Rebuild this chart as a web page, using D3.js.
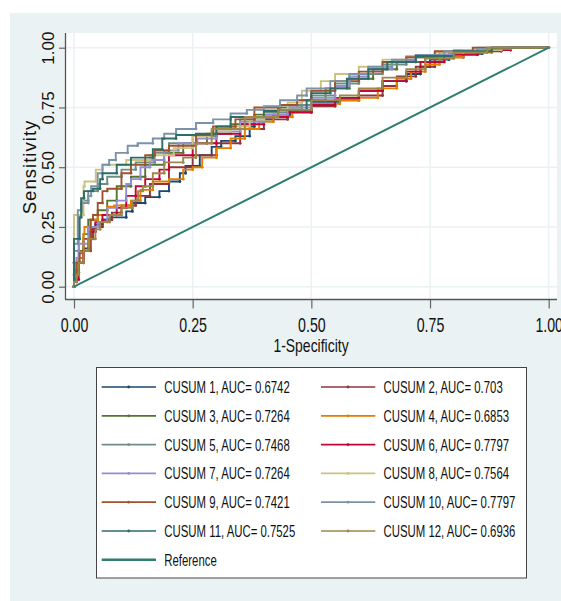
<!DOCTYPE html>
<html><head><meta charset="utf-8">
<script src="https://cdn.jsdelivr.net/npm/d3@7"></script>
<style>body{margin:0;background:#fff}svg{display:block}text{font-family:"Liberation Sans",Arial,sans-serif;fill:#111}</style>
</head><body><svg id="c" width="561" height="601"></svg>
<script>
const seriesNames = ["CUSUM 1","CUSUM 2","CUSUM 3","CUSUM 4","CUSUM 5","CUSUM 6","CUSUM 7","CUSUM 8","CUSUM 9","CUSUM 10","CUSUM 11","CUSUM 12"];
const aucValues = ["0.6742","0.703","0.7264","0.6853","0.7468","0.7797","0.7264","0.7564","0.7421","0.7797","0.7525","0.6936"];
const seriesColors = ["#1a476f","#90353b","#55752f","#e37e00","#6e8e84","#c10534","#938dd2","#cac27e","#a0522d","#7b92a8","#2d6d66","#9c8847"];
const referenceColor = "#2e7d6f";
const xTicks = [0,0.25,0.5,0.75,1];
const yTicks = [0,0.25,0.5,0.75,1];

const cusum1 = [[0,0],[0.005,0.03],[0.01,0.07],[0.02,0.1],[0.03,0.16],[0.035,0.2],[0.045,0.24],[0.06,0.26],[0.075,0.28],[0.11,0.29],[0.123,0.315],[0.15,0.35],[0.18,0.375],[0.2,0.40],[0.223,0.44],[0.235,0.475],[0.265,0.505],[0.29,0.55],[0.31,0.585],[0.34,0.61],[0.37,0.63],[0.38,0.67],[0.42,0.70],[0.455,0.72],[0.5,0.74],[0.56,0.774],[0.6,0.785],[0.65,0.82],[0.7,0.86],[0.73,0.89],[0.75,0.92],[0.79,0.95],[0.86,0.975],[0.92,0.99],[1,1]];
const cusum2 = [[0,0],[0.01,0.05],[0.02,0.12],[0.04,0.2],[0.06,0.25],[0.08,0.28],[0.1,0.31],[0.13,0.34],[0.16,0.38],[0.2,0.43],[0.25,0.5],[0.3,0.55],[0.35,0.6],[0.4,0.66],[0.45,0.7],[0.5,0.73],[0.55,0.755],[0.6,0.78],[0.65,0.8],[0.68,0.84],[0.72,0.88],[0.76,0.92],[0.82,0.96],[0.9,0.985],[1,1]];
const cusum3 = [[0,0],[0.01,0.06],[0.02,0.15],[0.03,0.22],[0.05,0.28],[0.07,0.32],[0.09,0.36],[0.12,0.42],[0.15,0.46],[0.19,0.51],[0.23,0.56],[0.28,0.6],[0.33,0.64],[0.38,0.68],[0.43,0.72],[0.48,0.75],[0.53,0.78],[0.58,0.83],[0.63,0.87],[0.68,0.91],[0.74,0.94],[0.8,0.965],[0.88,0.985],[1,1]];
const cusum4 = [[0,0],[0.005,0.02],[0.01,0.06],[0.02,0.12],[0.022,0.22],[0.035,0.25],[0.05,0.28],[0.07,0.3],[0.085,0.335],[0.12,0.34],[0.14,0.36],[0.166,0.405],[0.2,0.44],[0.23,0.45],[0.25,0.49],[0.27,0.50],[0.3,0.54],[0.33,0.58],[0.36,0.62],[0.39,0.66],[0.42,0.69],[0.46,0.71],[0.5,0.73],[0.56,0.765],[0.6,0.78],[0.64,0.79],[0.68,0.83],[0.71,0.87],[0.74,0.90],[0.77,0.93],[0.82,0.96],[0.88,0.98],[1,1]];
const cusum5 = [[0,0],[0,0.05],[0.01,0.15],[0.018,0.3],[0.03,0.36],[0.05,0.40],[0.07,0.43],[0.1,0.46],[0.13,0.49],[0.17,0.52],[0.2,0.56],[0.25,0.6],[0.3,0.63],[0.35,0.66],[0.4,0.70],[0.45,0.73],[0.5,0.76],[0.55,0.80],[0.6,0.85],[0.65,0.89],[0.7,0.93],[0.77,0.96],[0.85,0.98],[1,1]];
const cusum6 = [[0,0],[0.01,0.03],[0.02,0.1],[0.035,0.15],[0.045,0.23],[0.06,0.27],[0.09,0.3],[0.11,0.33],[0.13,0.38],[0.15,0.42],[0.18,0.45],[0.2,0.49],[0.25,0.55],[0.3,0.6],[0.35,0.64],[0.4,0.68],[0.45,0.71],[0.5,0.73],[0.55,0.76],[0.6,0.79],[0.65,0.82],[0.7,0.86],[0.73,0.9],[0.78,0.94],[0.85,0.97],[0.92,0.99],[1,1]];
const cusum7 = [[0,0],[0.005,0.05],[0.01,0.12],[0.03,0.18],[0.05,0.25],[0.07,0.27],[0.09,0.33],[0.11,0.36],[0.12,0.43],[0.14,0.45],[0.16,0.50],[0.19,0.53],[0.22,0.57],[0.26,0.6],[0.3,0.62],[0.35,0.65],[0.4,0.69],[0.45,0.72],[0.5,0.75],[0.55,0.79],[0.58,0.84],[0.62,0.88],[0.67,0.91],[0.72,0.945],[0.8,0.97],[0.88,0.99],[1,1]];
const cusum8 = [[0,0],[0,0.22],[0.02,0.30],[0.022,0.42],[0.046,0.44],[0.06,0.49],[0.11,0.51],[0.16,0.53],[0.21,0.55],[0.25,0.58],[0.29,0.63],[0.33,0.65],[0.37,0.67],[0.40,0.70],[0.45,0.74],[0.48,0.77],[0.52,0.82],[0.55,0.86],[0.6,0.89],[0.65,0.92],[0.7,0.95],[0.76,0.965],[0.82,0.98],[0.9,0.99],[1,1]];
const cusum9 = [[0,0],[0.005,0.02],[0.012,0.1],[0.02,0.14],[0.035,0.15],[0.04,0.28],[0.05,0.3],[0.06,0.35],[0.07,0.40],[0.1,0.41],[0.12,0.475],[0.15,0.51],[0.17,0.55],[0.2,0.57],[0.257,0.59],[0.293,0.635],[0.34,0.67],[0.38,0.70],[0.434,0.75],[0.47,0.76],[0.5,0.78],[0.55,0.82],[0.6,0.86],[0.65,0.9],[0.7,0.94],[0.76,0.96],[0.84,0.985],[1,1]];
const cusum10 = [[0,0],[0,0.1],[0.008,0.18],[0.015,0.32],[0.03,0.35],[0.036,0.38],[0.05,0.42],[0.06,0.475],[0.074,0.51],[0.088,0.53],[0.113,0.56],[0.134,0.59],[0.166,0.60],[0.19,0.62],[0.215,0.64],[0.257,0.66],[0.293,0.685],[0.33,0.70],[0.364,0.725],[0.40,0.74],[0.434,0.755],[0.47,0.78],[0.49,0.80],[0.54,0.83],[0.58,0.86],[0.62,0.89],[0.67,0.92],[0.72,0.95],[0.78,0.97],[0.85,0.985],[0.92,0.995],[1,1]];
const cusum11 = [[0,0],[0,0.1],[0.012,0.2],[0.015,0.29],[0.021,0.37],[0.04,0.40],[0.055,0.41],[0.06,0.45],[0.09,0.475],[0.12,0.51],[0.166,0.54],[0.186,0.575],[0.215,0.62],[0.257,0.635],[0.30,0.64],[0.33,0.67],[0.40,0.71],[0.43,0.735],[0.49,0.74],[0.50,0.78],[0.54,0.81],[0.575,0.83],[0.62,0.87],[0.66,0.91],[0.72,0.94],[0.8,0.965],[0.88,0.985],[1,1]];
const cusum12 = [[0,0],[0.005,0.02],[0.01,0.05],[0.02,0.1],[0.03,0.15],[0.045,0.2],[0.055,0.24],[0.075,0.27],[0.1,0.3],[0.123,0.33],[0.135,0.36],[0.145,0.40],[0.166,0.42],[0.19,0.475],[0.23,0.52],[0.257,0.54],[0.29,0.6],[0.36,0.66],[0.43,0.71],[0.5,0.74],[0.56,0.78],[0.6,0.8],[0.65,0.83],[0.7,0.875],[0.74,0.91],[0.8,0.955],[0.87,0.98],[1,1]];
const referenceLine = [[0,0],[1,1]];
const curves = [cusum1,cusum2,cusum3,cusum4,cusum5,cusum6,cusum7,cusum8,cusum9,cusum10,cusum11,cusum12];

const svg = d3.select("#c");
const font = '"Liberation Sans",Arial,sans-serif';
svg.append("rect").attr("x",10).attr("y",13).attr("width",551).attr("height",588).attr("fill","#eaf2f3");
svg.append("rect").attr("x",66).attr("y",33).attr("width",491).attr("height",266).attr("fill","#fff");

const x = d3.scaleLinear().domain([0,1]).range([74,548.7]);
const y = d3.scaleLinear().domain([0,1]).range([286.7,47.7]);

const grid = svg.append("g");
grid.selectAll(".gy").data(yTicks).join("line").attr("x1",66).attr("x2",557).attr("y1",d=>y(d)).attr("y2",d=>y(d)).attr("stroke","#eaf2f3").attr("stroke-width",1.5);
grid.selectAll(".gx").data(xTicks).join("line").attr("y1",33).attr("y2",299).attr("x1",d=>x(d)).attr("x2",d=>x(d)).attr("stroke","#eaf2f3").attr("stroke-width",1.5);

const xa = svg.append("g").attr("transform","translate(0,299.5)").call(d3.axisBottom(x).tickValues(xTicks).tickSize(9).tickFormat(d3.format(".2f")));
xa.select(".domain").remove();
xa.selectAll(".tick line").attr("stroke","#666").attr("stroke-width",1.2);
xa.selectAll(".tick text").attr("y",33).attr("dy",0).attr("font-size",20).attr("font-family",font).attr("fill","#111").attr("transform","scale(0.71,1)");
const ya = svg.append("g").attr("transform","translate(65.5,0)").call(d3.axisLeft(y).tickValues(yTicks).tickSize(6.5).tickFormat(d3.format(".2f")));
ya.select(".domain").remove();
ya.selectAll(".tick line").attr("stroke","#666").attr("stroke-width",1.2);
ya.selectAll(".tick text").attr("x",0).attr("y",0).attr("dy",0).attr("text-anchor","middle").attr("font-size",17).attr("font-family",font).attr("fill","#111").attr("transform","translate(-12,0) rotate(-90)");
svg.append("line").attr("x1",65.5).attr("x2",65.5).attr("y1",33).attr("y2",299.5).attr("stroke","#555").attr("stroke-width",1.3);
svg.append("line").attr("x1",65).attr("x2",557).attr("y1",299.5).attr("y2",299.5).attr("stroke","#555").attr("stroke-width",1.3);

svg.append("g").attr("transform","translate(311,351.5) scale(0.75,1)").append("text").attr("text-anchor","middle").attr("font-size",18.6).text("1-Specificity");
svg.append("text").attr("transform","translate(35.5,167) rotate(-90)").attr("text-anchor","middle").attr("font-size",18.6).attr("letter-spacing",1).text("Sensitivity");

const line = d3.line().x(d=>x(d[0])).y(d=>y(d[1])).curve(d3.curveStepBefore);
const plot = svg.append("g");
curves.forEach((c,i)=>{
  plot.append("path").attr("d",line(c)).attr("fill","none").attr("stroke",seriesColors[i]).attr("stroke-width",1.9);
  plot.append("g").selectAll("circle").data(c).join("circle").attr("cx",d=>x(d[0])).attr("cy",d=>y(d[1])).attr("r",1.4).attr("fill",seriesColors[i]);
});
plot.append("path").attr("d",d3.line().x(d=>x(d[0])).y(d=>y(d[1]))(referenceLine)).attr("fill","none").attr("stroke",referenceColor).attr("stroke-width",1.9);

const lg = svg.append("g");
lg.append("rect").attr("x",96.5).attr("y",367.5).attr("width",430).attr("height",210.5).attr("fill","#fff").attr("stroke","#444").attr("stroke-width",1);
const rowY = i => 387 + i*28.8;
const colX = [101.7, 321];
const items = seriesNames.map((n,i)=>({label:`${n}, AUC= ${aucValues[i]}`, color:seriesColors[i], col:i%2, row:Math.floor(i/2), marker:true}));
items.push({label:"Reference", color:referenceColor, col:0, row:6, marker:false});
items.forEach(it=>{
  const lx = colX[it.col], ly = rowY(it.row);
  lg.append("line").attr("x1",lx).attr("x2",lx+54.3).attr("y1",ly).attr("y2",ly).attr("stroke",it.color).attr("stroke-width",it.marker?1.7:2.4);
  if(it.marker) lg.append("circle").attr("cx",lx+27).attr("cy",ly).attr("r",1.4).attr("fill",it.color);
  lg.append("g").attr("transform",`translate(${lx+62.6},${ly+6}) scale(0.69,1)`).append("text").attr("font-size",16.5).text(it.label);
});
</script></body></html>
